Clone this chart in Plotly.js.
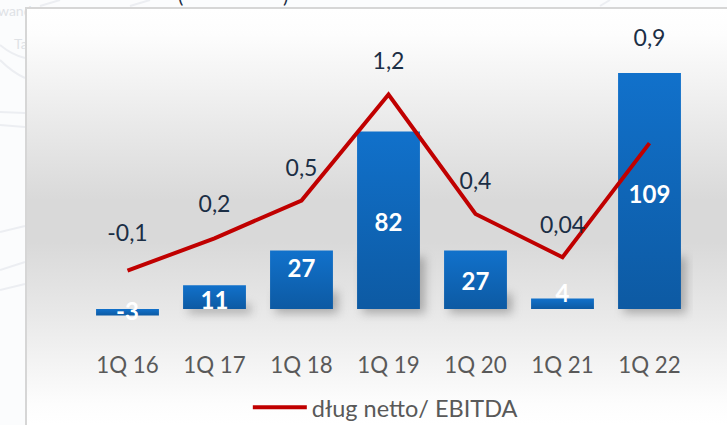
<!DOCTYPE html>
<html>
<head>
<meta charset="utf-8">
<script src="https://cdn.plot.ly/plotly-3.0.1.min.js"></script>
<style>
html,body{margin:0;padding:0;width:727px;height:425px;overflow:hidden;background:#fbfcfd;}
#backdrop{position:absolute;left:0;top:0;width:727px;height:425px;}
#panel{position:absolute;left:25px;top:7px;width:702px;height:418px;box-sizing:border-box;border-left:2px solid #d6d6d6;border-top:2px solid #d6d6d6;
background:linear-gradient(to bottom,#ffffff 0%,#fdfdfd 6%,#d9d9d9 46%,#d9d9d9 56%,#e8e8e8 73%,#fdfdfd 95%,#ffffff 100%);}
#chart{position:absolute;left:0;top:0;width:727px;height:425px;}
</style>
</head>
<body>
<svg id="backdrop" viewBox="0 0 727 425">
  <g fill="none" stroke="#eceef2" stroke-width="2">
    <path d="M0 45 Q12 55 25 58"/><path d="M0 60 Q12 72 25 78"/><path d="M0 112 L25 113"/><path d="M0 125 L25 127"/>
    <path d="M0 232 L25 226"/><path d="M0 270 L25 262"/><path d="M0 290 L25 284"/>
    <path d="M40 6 L60 0"/><path d="M130 6 L150 0"/><path d="M600 6 L610 0"/>
  </g>
  <text x="-2" y="16" font-family="Lato" font-size="14" fill="#dfe2e6">wand</text>
  <text x="14" y="49" font-family="Lato" font-size="14" fill="#dfe2e6">Ta</text>
  <text x="178" y="3" font-family="Lato" font-size="20" fill="#1b2e45">(</text>
  <text x="283" y="3" font-family="Lato" font-size="20" fill="#1b2e45">)</text>
</svg>
<div id="panel"></div>
<div id="chart"></div>
<script>
const categories = ['1Q 16','1Q 17','1Q 18','1Q 19','1Q 20','1Q 21','1Q 22'];
const barValues = [-3, 11, 27, 82, 27, 4.8, 109];
const barLabels = ['-3','11','27','82','27','4','109'];
const barLabelHeights = [-2.2, 2.6, 17.6, 38.6, 11.6, 5.8, 51.6];
const shadowValues = [0, 4, 10, 26, 9, 0, 26];
const ratioValues = [-0.06, 0.18, 0.46, 1.245, 0.36, 0.04, 0.885];
const ratioLabels = ['-0,1','0,2','0,5','1,2','0,4','0,04','0,9'];
const ratioLabelHeights = [0.204, 0.419, 0.686, 1.478, 0.589, 0.264, 1.649];
const FONT = 'Lato, "Open Sans", sans-serif';

const traces = [
  {type:'bar', x:categories, y:shadowValues, base:-2, width:0.72, offset:-0.3, yaxis:'y',
   marker:{color:'rgba(110,110,110,0.5)'}, showlegend:false, hoverinfo:'skip'},
  {type:'bar', x:categories, y:barValues, width:0.7225, offset:-0.36125, yaxis:'y',
   marker:{color:'#0f66b8'}, showlegend:false, hoverinfo:'skip'},
  {type:'scatter', mode:'lines', x:categories, y:ratioValues, yaxis:'y2', name:'dług netto/ EBITDA',
   line:{color:'#c00000', width:4, shape:'linear'}, hoverinfo:'skip'},
  {type:'scatter', mode:'text', x:categories, y:barLabelHeights, text:barLabels, yaxis:'y', textposition:'middle center',
   textfont:{family:FONT, size:24, color:'#ffffff', weight:700}, showlegend:false, hoverinfo:'skip'},
  {type:'scatter', mode:'text', x:categories, y:ratioLabelHeights, text:ratioLabels, yaxis:'y2', textposition:'middle center',
   textfont:{family:FONT, size:23, color:'#1b2e45'}, showlegend:false, hoverinfo:'skip'}
];

const layout = {
  width:727, height:425,
  margin:{l:83.7, r:34, t:8, b:0, pad:0, autoexpand:false},
  paper_bgcolor:'rgba(0,0,0,0)', plot_bgcolor:'rgba(0,0,0,0)',
  barmode:'overlay', showlegend:true, hovermode:false,
  font:{family:FONT, color:'#595959'},
  xaxis:{type:'category', range:[-0.5,6.5], showgrid:false, zeroline:false, showline:false, ticks:'',
         anchor:'free', position:0.181,
         tickfont:{family:FONT, size:22.3, color:'#595959'}, automargin:false, fixedrange:true},
  yaxis:{range:[-53.58,139.03], visible:false, fixedrange:true},
  yaxis2:{range:[-1.203,1.886], visible:false, overlaying:'y', side:'right', fixedrange:true},
  legend:{orientation:'h', x:0.269, y:0.0945, xanchor:'left', yanchor:'top', itemwidth:54,
          bgcolor:'rgba(0,0,0,0)', font:{family:FONT, size:23.5, color:'#595959'}}
};

Plotly.newPlot('chart', traces, layout, {displayModeBar:false, staticPlot:true}).then(function(gd){
  const svg = gd.querySelector('svg.main-svg');
  const ns = 'http://www.w3.org/2000/svg';
  const defs = svg.querySelector('defs');
  const g = document.createElementNS(ns,'linearGradient');
  g.setAttribute('id','barFill'); g.setAttribute('x1','0'); g.setAttribute('y1','0'); g.setAttribute('x2','0'); g.setAttribute('y2','1');
  [['0','#1171cb'],['1','#0d5aa3']].forEach(function(s){
    const st=document.createElementNS(ns,'stop'); st.setAttribute('offset',s[0]); st.setAttribute('stop-color',s[1]); g.appendChild(st);
  });
  defs.appendChild(g);
  const groups = gd.querySelectorAll('.barlayer .trace');
  groups[0].style.filter='blur(5px)';
  groups[1].querySelectorAll('path').forEach(function(p){ p.style.fill='url(#barFill)'; });
});
</script>
</body>
</html>
